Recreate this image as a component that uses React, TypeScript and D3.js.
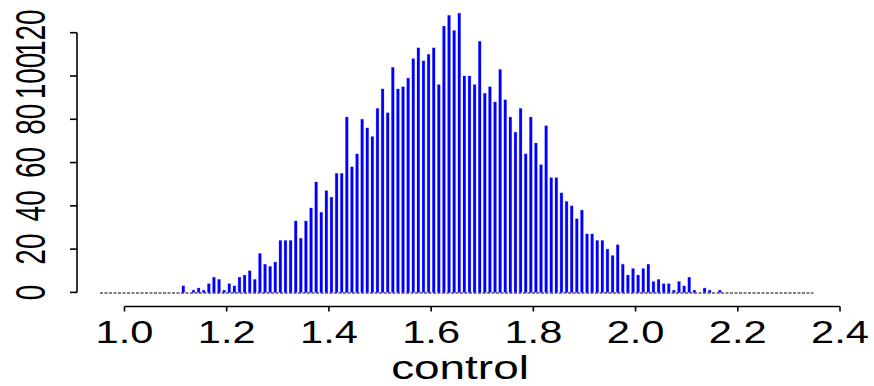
import React from "react";
import * as d3 from "d3";

// Histogram of the "control" variable: counts per 0.01-wide bin.
const binFirstMid = 0.955;
const binWidth = 0.01;
const leftTailCounts = [0, 0, 0, 0, 0, 0, 0, 0, 0, 0, 0, 0, 0, 0, 0, 0];
const bodyCounts = [
  3, 0, 1, 2, 1, 4, 7, 6, 1, 4, 3, 7, 8, 10, 6, 18, 13, 12, 14, 24,
  24, 24, 33, 25, 33, 39, 51, 37, 47, 44, 55, 55, 81, 58, 64, 80, 76, 72, 85, 94,
  83, 104, 94, 95, 99, 108, 113, 107, 110, 113, 96, 123, 128, 121, 129, 100, 100, 96, 116, 92,
  95, 88, 103, 89, 81, 74, 85, 64, 81, 69, 59, 77, 53, 53, 46, 42, 40, 34, 38, 27,
  27, 24, 24, 20, 17, 22, 13, 8, 11, 8, 11, 13, 5, 6, 4, 4, 1, 5, 3, 7,
  1, 0, 2, 1, 0, 1,
];
const rightTailCounts = [0, 0, 0, 0, 0, 0, 0, 0, 0, 0, 0, 0, 0, 0, 0, 0, 0, 0];
const counts = [...leftTailCounts, ...bodyCounts, ...rightTailCounts];

const xTicks = [1.0, 1.2, 1.4, 1.6, 1.8, 2.0, 2.2, 2.4];
const yTicks = [0, 20, 40, 60, 80, 100, 120];
const xTitle = "control";

const W = 874;
const H = 386;

export default function App() {
  const x = d3.scaleLinear().domain([1.0, 2.4]).range([124.5, 840]);
  const y = d3.scaleLinear().domain([0, 120]).range([292.4, 32.7]);
  const bins = counts.map((c, i) => ({ mid: binFirstMid + i * binWidth, count: c }));
  const fontFamily = "'Liberation Sans', Arial, Helvetica, sans-serif";
  const barW = 2.7;
  const xAxisY = 306.5;
  const yAxisX = 77;

  return (
    <svg
      width={W}
      height={H}
      style={{ position: "absolute", left: 0, top: 0, background: "#fff" }}
      fontFamily={fontFamily}
    >
      {/* baseline under the bins */}
      <line
        x1={x(bins[0].mid) - 1.5}
        x2={x(bins[bins.length - 1].mid) + 1.5}
        y1={y(0) + 0.6}
        y2={y(0) + 0.6}
        stroke="#555"
        strokeWidth={1.5}
        strokeDasharray="3,1.5"
      />
      {/* bars */}
      {bins
        .filter((b) => b.count > 0)
        .map((b, i) => (
          <rect
            key={i}
            x={x(b.mid) - barW / 2}
            y={y(b.count)}
            width={barW}
            height={y(0) - y(b.count)}
            fill="#0000ff"
            stroke="rgba(0,0,255,0.25)"
            strokeWidth={0.8}
          />
        ))}

      {/* x axis */}
      <line x1={x(1.0)} x2={x(2.4)} y1={xAxisY} y2={xAxisY} stroke="#000" strokeWidth={1.6} />
      {xTicks.map((t) => (
        <g key={t}>
          <line x1={x(t)} x2={x(t)} y1={xAxisY} y2={xAxisY + 5} stroke="#000" strokeWidth={1.6} />
          <text
            transform={`translate(${x(t)},343) scale(1.3,1)`}
            textAnchor="middle"
            fontSize={32}
            fill="#000"
          >
            {t.toFixed(1)}
          </text>
        </g>
      ))}
      <text
        transform={`translate(460,379) scale(1.35,1)`}
        textAnchor="middle"
        fontSize={34}
        fill="#000"
      >
        {xTitle}
      </text>

      {/* y axis */}
      <line x1={yAxisX} x2={yAxisX} y1={y(0)} y2={y(120)} stroke="#000" strokeWidth={1.6} />
      {yTicks.map((t) => (
        <g key={t}>
          <line x1={yAxisX - 7} x2={yAxisX} y1={y(t)} y2={y(t)} stroke="#000" strokeWidth={1.6} />
          <text
            transform={`translate(45,${y(t)}) rotate(-90) scale(1,1.5)`}
            textAnchor="middle"
            fontSize={28}
            fill="#000"
          >
            {t}
          </text>
        </g>
      ))}
    </svg>
  );
}
